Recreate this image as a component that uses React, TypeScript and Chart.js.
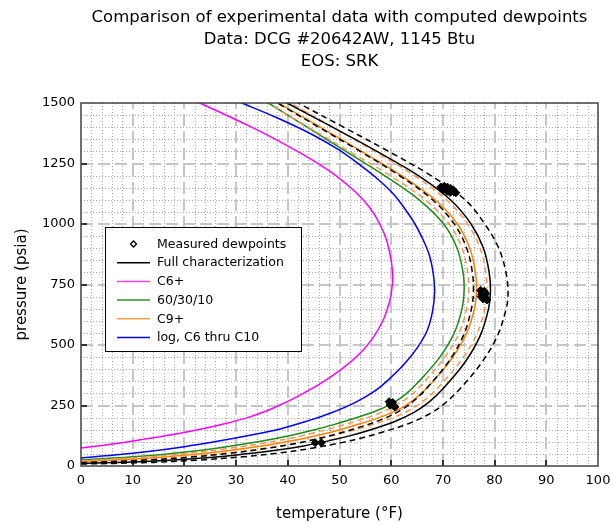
import React, { useEffect, useRef } from "react";
import { Chart, registerables } from "chart.js";

Chart.register(...registerables);

// ---------- text ----------
const TITLE_LINES = [
  "Comparison of experimental data with computed dewpoints",
  "Data: DCG #20642AW, 1145 Btu",
  "EOS: SRK",
];
const X_TITLE = "temperature (°F)";
const Y_TITLE = "pressure (psia)";

// ---------- axes ----------
const X_MIN = 0, X_MAX = 100, X_MAJOR = 10, X_MINOR = 2;
const Y_MIN = 0, Y_MAX = 1500, Y_MAJOR = 250, Y_MINOR = 50;

// ---------- measured dewpoints (temperature °F, pressure psia) ----------
const MEAS_T = [69.6, 70.1, 70.6, 71.1, 71.6, 72.1, 72.5, 70.3, 70.9, 71.5, 72.0, 70.0, 70.8, 71.4,
  77.3, 77.6, 77.9, 78.2, 78.5, 77.4, 77.8, 78.3, 78.0, 77.5,
  59.6, 60.0, 60.4, 60.7, 59.8, 60.3,
  45.3, 46.5];
const MEAS_P = [1153, 1149, 1145, 1141, 1137, 1133, 1129, 1156, 1152, 1147, 1141, 1140, 1135, 1130,
  726, 716, 706, 696, 686, 700, 690, 712, 722, 708,
  266, 258, 250, 244, 252, 262,
  96, 96];

// ---------- Full characterization (solid black) ----------
const FULL_P = [11, 19, 30.2, 45.8, 61.6, 83.1, 106, 125.5, 151.1, 183.6, 221.3, 263.7, 321.6, 426.6, 537.9, 647.4, 720, 800, 900, 1000, 1100, 1200, 1300, 1400, 1500, 1560];
const FULL_T = [0, 12.3, 21.7, 30.1, 36.6, 43.1, 48.3, 52.1, 56.2, 60.7, 64.4, 67.3, 70.1, 74.2, 77.2, 78.8, 79.2, 78.95, 77.85, 75.45, 71.45, 65.25, 57.25, 48.65, 39.85, 34.5];

// ---------- Full characterization, inner / outer dashed black ----------
const FULL_IN_P = [14, 23.5, 36.1, 53, 69.8, 92, 115.4, 135.2, 160.5, 192.6, 229.6, 271.5, 329.1, 431.6, 540.7, 648.1, 720, 800, 900, 1000, 1100, 1200, 1300, 1400, 1500, 1560];
const FULL_IN_T = [0, 11.8, 20.8, 28.9, 35.0, 41.3, 46.3, 49.9, 53.9, 58.2, 61.8, 64.5, 67.2, 71.1, 74.0, 75.5, 75.9, 75.7, 74.6, 72.2, 68.0, 61.6, 54.0, 46.0, 38.0, 33.2];
const FULL_OUT_P = [8, 14.4, 24.2, 38.4, 53.4, 74.1, 96.6, 115.9, 141.8, 174.8, 212.9, 255.9, 314.5, 421.7, 535.7, 646.8, 710, 800, 900, 1000, 1100, 1200, 1300, 1400, 1500, 1560];
const FULL_OUT_T = [0, 12.8, 22.6, 31.4, 38.1, 44.9, 50.4, 54.3, 58.6, 63.3, 67.2, 70.2, 73.1, 77.3, 80.5, 82.2, 82.6, 82.2, 80.8, 78.1, 74.3, 67.7, 59.5, 50.8, 42.0, 36.7];

// ---------- C6+ (magenta) ----------
const C6_P = [74, 90, 110, 128, 150, 175, 200, 225, 252, 290, 340, 400, 460, 521, 600, 680, 727, 790, 860, 934, 1000, 1066, 1130, 1200, 1260, 1318, 1400, 1496, 1560];
const C6_T = [0, 5.8, 12, 17.2, 22.6, 27.8, 32.2, 35.6, 38.5, 42.1, 46.3, 50.4, 53.7, 56.2, 58.4, 59.7, 60.1, 60.3, 59.9, 59.1, 57.8, 55.9, 53.2, 49.3, 45.1, 40.4, 33.0, 23.4, 16.8];

// ---------- 60/30/10 (green) ----------
const G_P = [25, 40, 58, 80, 100, 125, 150, 170, 195, 225, 260, 300, 355, 450, 550, 650, 727, 800, 900, 1000, 1100, 1200, 1300, 1400, 1500, 1560];
const G_T = [0, 11.5, 20.3, 28.2, 34.2, 40.3, 45.2, 48.7, 52.6, 56.8, 60.3, 63.0, 65.6, 69.4, 72.2, 73.7, 74.1, 73.9, 72.75, 70.15, 65.4, 58.7, 51.25, 43.75, 36.25, 31.75];

// ---------- C9+ (orange solid) ----------
const C9_P = [19, 31, 46.1, 65.3, 83.5, 107, 131.1, 151, 176.3, 207.2, 243.4, 284.4, 340.8, 440.1, 545, 648.7, 725, 800, 900, 1000, 1100, 1200, 1300, 1400, 1500, 1560];
const C9_T = [0, 11.9, 21.0, 29.1, 35.3, 41.6, 46.7, 50.3, 54.3, 58.6, 62.3, 65.0, 67.7, 71.6, 74.5, 76.1, 76.5, 76.3, 75.2, 72.8, 68.5, 62.0, 54.3, 46.3, 38.2, 33.4];

// ---------- C9+, inner / outer dashed orange ----------
const C9_IN_P = [22, 35.5, 52, 72.6, 91.8, 116, 140.6, 160.5, 185.6, 216.2, 251.7, 292.2, 347.9, 445.1, 547.3, 649.4, 725, 800, 900, 1000, 1100, 1200, 1300, 1400, 1500, 1560];
const C9_IN_T = [0, 11.6, 20.5, 28.5, 34.6, 40.8, 45.7, 49.3, 53.2, 57.5, 61.0, 63.8, 66.4, 70.2, 73.1, 74.6, 75.0, 74.8, 73.7, 71.2, 66.6, 59.8, 51.9, 44.0, 36.0, 31.3];
const C9_OUT_P = [16, 26.5, 40.1, 58, 75.3, 98, 121.7, 141.4, 166.7, 198.5, 235, 276.6, 333.7, 435.2, 542.3, 648.1, 725, 800, 900, 1000, 1100, 1200, 1300, 1400, 1500, 1560];
const C9_OUT_T = [0, 12.2, 21.5, 29.9, 36.2, 42.7, 47.9, 51.6, 55.7, 60.2, 63.9, 66.7, 69.5, 73.5, 76.5, 78.1, 78.5, 78.3, 77.2, 74.8, 70.7, 64.5, 56.8, 48.7, 40.5, 35.6];

// ---------- log, C6 thru C10 (blue) ----------
const LOG_P = [33, 45, 60, 80, 100, 125, 153, 185, 218, 260, 305, 355, 420, 490, 562, 640, 720, 800, 870, 934, 1000, 1058, 1120, 1180, 1240, 1306, 1370, 1440, 1500, 1560];
const LOG_T = [0, 6.5, 13, 20, 25.8, 32.2, 38.5, 43.6, 48.2, 52.8, 56.5, 59.4, 62.5, 65.1, 67.0, 68.0, 68.4, 68.1, 67.4, 66.2, 64.6, 62.8, 60.6, 57.7, 54.2, 49.9, 44.7, 37.8, 31.1, 24.3];

const LEGEND_LABELS = ["Measured dewpoints", "Full characterization", "C6+", "60/30/10", "C9+", "log, C6 thru C10"];

const FONT = "DejaVu Sans";

function pts(T: number[], P: number[]) {
  return T.map((t, i) => ({ x: t, y: P[i] }));
}

function curve(label: string, T: number[], P: number[], color: string, dashed: boolean, legendColor?: string) {
  return {
    label,
    data: pts(T, P),
    showLine: true,
    borderColor: color,
    backgroundColor: color,
    borderWidth: 1.5,
    borderDash: dashed ? [6, 4] : [],
    pointRadius: 0,
    pointHoverRadius: 0,
    tension: 0.35,
    legendColor: legendColor || color,
  } as any;
}

const decorPlugin = {
  id: "decor",
  beforeDatasetsDraw(chart: any) {
    const { ctx, chartArea: a, scales } = chart;
    const xs = scales.x, ys = scales.y;
    ctx.save();
    // minor dotted grid
    ctx.strokeStyle = "#a8a8a8";
    ctx.lineWidth = 1;
    ctx.setLineDash([1, 2]);
    for (let v = X_MIN; v <= X_MAX; v += X_MINOR) {
      if (v % X_MAJOR === 0) continue;
      const px = Math.round(xs.getPixelForValue(v)) + 0.5;
      ctx.beginPath(); ctx.moveTo(px, a.top); ctx.lineTo(px, a.bottom); ctx.stroke();
    }
    for (let v = Y_MIN; v <= Y_MAX; v += Y_MINOR) {
      if (v % Y_MAJOR === 0) continue;
      const py = Math.round(ys.getPixelForValue(v)) + 0.5;
      ctx.beginPath(); ctx.moveTo(a.left, py); ctx.lineTo(a.right, py); ctx.stroke();
    }
    // major dashed grid
    ctx.strokeStyle = "#c6c6c6";
    ctx.lineWidth = 2;
    ctx.setLineDash([12, 5]);
    for (let v = X_MIN + X_MAJOR; v < X_MAX; v += X_MAJOR) {
      const px = Math.round(xs.getPixelForValue(v));
      ctx.beginPath(); ctx.moveTo(px, a.bottom); ctx.lineTo(px, a.top); ctx.stroke();
    }
    for (let v = Y_MIN + Y_MAJOR; v < Y_MAX; v += Y_MAJOR) {
      const py = Math.round(ys.getPixelForValue(v));
      ctx.beginPath(); ctx.moveTo(a.left, py); ctx.lineTo(a.right, py); ctx.stroke();
    }
    ctx.restore();
  },
  afterDatasetsDraw(chart: any) {
    const { ctx, chartArea: a, scales } = chart;
    const xs = scales.x, ys = scales.y;
    ctx.save();
    ctx.setLineDash([]);
    // inward tick marks
    ctx.strokeStyle = "#000";
    ctx.lineWidth = 1.5;
    for (let v = X_MIN + X_MAJOR; v < X_MAX; v += X_MAJOR) {
      const px = Math.round(xs.getPixelForValue(v));
      ctx.beginPath(); ctx.moveTo(px, a.bottom); ctx.lineTo(px, a.bottom - 6); ctx.stroke();
    }
    for (let v = Y_MIN + Y_MAJOR; v < Y_MAX; v += Y_MAJOR) {
      const py = Math.round(ys.getPixelForValue(v));
      ctx.beginPath(); ctx.moveTo(a.left, py); ctx.lineTo(a.left + 6, py); ctx.stroke();
    }
    // frame
    ctx.strokeStyle = "#404040";
    ctx.lineWidth = 1.5;
    ctx.strokeRect(a.left, a.top, a.right - a.left, a.bottom - a.top);

    // legend box
    const bx = a.left + 24, by = a.top + 124, bw = 196, bh = 124;
    ctx.fillStyle = "#fff";
    ctx.fillRect(bx, by, bw, bh);
    ctx.strokeStyle = "#000";
    ctx.lineWidth = 1;
    ctx.strokeRect(bx + 0.5, by + 0.5, bw, bh);
    const ds = chart.data.datasets;
    ctx.font = `12.5px "${FONT}"`;
    ctx.textBaseline = "middle";
    ctx.textAlign = "left";
    LEGEND_LABELS.forEach((lab, i) => {
      const d = ds.find((q: any) => q.label === lab);
      const cy = by + 17 + i * 18.7;
      const lx0 = bx + 12, lx1 = bx + 45;
      if (d && d.showLine) {
        ctx.strokeStyle = d.legendColor;
        ctx.lineWidth = 1.5;
        ctx.beginPath(); ctx.moveTo(lx0, cy); ctx.lineTo(lx1, cy); ctx.stroke();
      } else {
        const cx = (lx0 + lx1) / 2, r = 3;
        ctx.strokeStyle = "#000";
        ctx.lineWidth = 1.3;
        ctx.beginPath();
        ctx.moveTo(cx, cy - r); ctx.lineTo(cx + r, cy); ctx.lineTo(cx, cy + r); ctx.lineTo(cx - r, cy); ctx.closePath();
        ctx.stroke();
      }
      ctx.fillStyle = "#000";
      ctx.fillText(lab, bx + 52, cy + 0.5);
    });
    ctx.restore();
  },
};

export default function App() {
  const ref = useRef<HTMLCanvasElement>(null);
  useEffect(() => {
    if (!ref.current) return;
    Chart.defaults.font.family = FONT;
    Chart.defaults.color = "#000";
    const chart = new Chart(ref.current, {
      type: "scatter",
      data: {
        datasets: [
          {
            label: "Measured dewpoints",
            data: pts(MEAS_T, MEAS_P),
            showLine: false,
            pointStyle: "rectRot",
            pointRadius: 4,
            pointBorderWidth: 1,
            borderColor: "#000",
            backgroundColor: "#000",
          } as any,
          curve("Full characterization", FULL_T, FULL_P, "#000000", false),
          curve("Full characterization (inner)", FULL_IN_T, FULL_IN_P, "#000000", true),
          curve("Full characterization (outer)", FULL_OUT_T, FULL_OUT_P, "#000000", true),
          curve("C9+ (inner)", C9_IN_T, C9_IN_P, "#ff9450", true),
          curve("C9+ (outer)", C9_OUT_T, C9_OUT_P, "#ff9450", true),
          curve("C9+", C9_T, C9_P, "#ff8000", false, "#ffa050"),
          curve("60/30/10", G_T, G_P, "#1a8c1a", false, "#2a962a"),
          curve("log, C6 thru C10", LOG_T, LOG_P, "#0000ff", false),
          curve("C6+", C6_T, C6_P, "#ff00ff", false, "#ff44ff"),
        ],
      },
      options: {
        responsive: false,
        animation: false,
        events: [],
        layout: { padding: { left: 0, right: 15, top: 0, bottom: 0 } },
        plugins: {
          legend: { display: false },
          tooltip: { enabled: false },
          title: {
            display: true,
            text: TITLE_LINES,
            fullSize: false,
            color: "#000",
            font: { family: FONT, size: 16.5, weight: "normal", lineHeight: "22px" } as any,
            padding: { top: 7, bottom: 30 },
          },
        },
        scales: {
          x: {
            type: "linear",
            min: X_MIN,
            max: X_MAX,
            grid: { display: false, drawTicks: false },
            border: { display: false },
            ticks: { stepSize: X_MAJOR, font: { size: 13 }, color: "#000", padding: 7, maxRotation: 0, callback: (v: any) => String(v) },
            title: { display: true, text: X_TITLE, color: "#000", font: { size: 15 }, padding: { top: 0, bottom: 1 } },
            afterFit: (s: any) => { s.height = 58; s.paddingLeft = 0; s.paddingRight = 0; },
          },
          y: {
            type: "linear",
            min: Y_MIN,
            max: Y_MAX,
            grid: { display: false, drawTicks: false },
            border: { display: false },
            ticks: { stepSize: Y_MAJOR, font: { size: 13 }, color: "#000", padding: 6, callback: (v: any) => String(v) },
            title: { display: true, text: Y_TITLE, color: "#000", font: { size: 15 }, padding: { top: 13, bottom: 0 } },
            afterFit: (s: any) => { s.width = 81; s.paddingTop = 0; s.paddingBottom = 0; },
          },
        },
      } as any,
      plugins: [decorPlugin],
    });
    return () => chart.destroy();
  }, []);
  return (
    <div style={{ position: "fixed", left: 0, top: 0, width: 613, height: 524, background: "#fff" }}>
      <canvas ref={ref} width={613} height={524} style={{ display: "block" }} />
    </div>
  );
}
